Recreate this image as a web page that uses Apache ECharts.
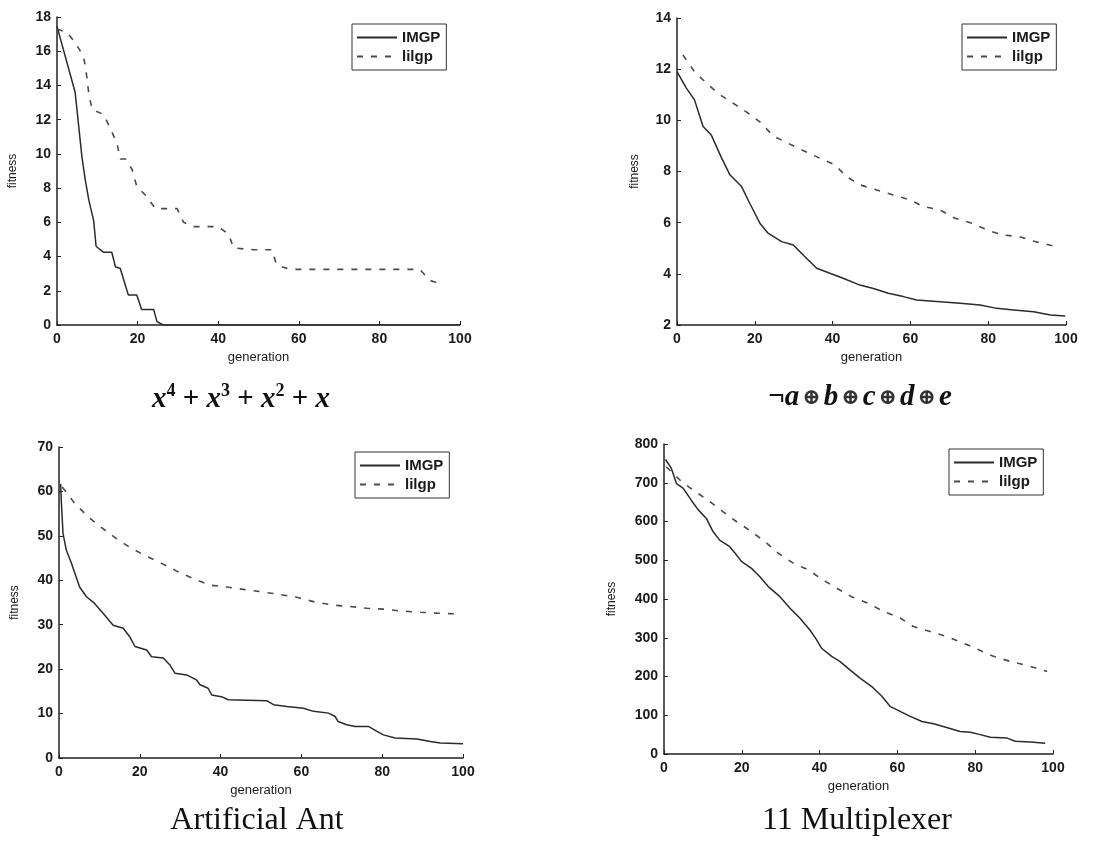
<!DOCTYPE html>
<html>
<head>
<meta charset="utf-8">
<script src="https://cdn.jsdelivr.net/npm/echarts@6/dist/echarts.min.js"></script>
<style>
  html, body { margin: 0; padding: 0; background: #fff; }
  #chart { width: 1103px; height: 848px; }
</style>
</head>
<body>
<div id="chart"></div>
<script>
// 四个子图的数据 (横轴: generation, 纵轴: fitness)
const legendNames = ['IMGP', 'lilgp']

// x^4 + x^3 + x^2 + x
const polyImgpGen = [0, 4.5, 6.2, 7, 7.9, 9.1, 9.7, 10.7, 11.6, 13.6, 14.5, 15.7, 17.7, 19.8, 21, 24, 24.8, 26.4, 40, 60, 80, 100]
const polyImgpFit = [17.45, 13.6, 9.8, 8.5, 7.3, 6.1, 4.6, 4.4, 4.25, 4.25, 3.4, 3.3, 1.75, 1.75, 0.9, 0.9, 0.2, 0, 0, 0, 0, 0]
const polyLilGen = [0, 2.5, 4.5, 6.6, 7.4, 7.9, 8.7, 11.6, 13.2, 14.9, 15.7, 17, 18.6, 19.8, 22.3, 24.4, 29.8, 31.4, 33.9, 40, 42.6, 43.8, 48.8, 53.3, 54.5, 57.9, 90, 92.6, 95.9]
const polyLilFit = [17.3, 17.1, 16.5, 15.7, 14.5, 13.5, 12.6, 12.3, 11.5, 10.6, 9.7, 9.7, 9.1, 8.1, 7.5, 6.8, 6.8, 6.0, 5.75, 5.75, 5.3, 4.5, 4.4, 4.4, 3.5, 3.25, 3.25, 2.6, 2.35]

// ¬a⊕b⊕c⊕d⊕e
const parityImgpGen = [0, 2.4, 4.5, 6.7, 8.8, 11.3, 13.6, 16.6, 18.7, 21.3, 23.4, 26.9, 29.9, 32.9, 35.9, 39.3, 42.7, 47, 50.5, 54.3, 58.2, 61.6, 67.6, 72.8, 77.9, 82.2, 86.5, 91.7, 96, 99.8]
const parityImgpFit = [11.9, 11.26, 10.8, 9.76, 9.43, 8.58, 7.87, 7.41, 6.76, 5.98, 5.59, 5.26, 5.13, 4.67, 4.22, 4.02, 3.83, 3.56, 3.43, 3.24, 3.11, 2.98, 2.91, 2.85, 2.78, 2.65, 2.59, 2.52, 2.39, 2.35]
const parityLilGen = [1.5, 4.5, 7.6, 11, 14.4, 18.3, 21.7, 24.7, 28.6, 32.4, 36.7, 40.6, 43.6, 47, 51.3, 55.6, 59.9, 63.3, 67.6, 71.5, 75.8, 79.7, 83.5, 87.8, 92.1, 96.8]
const parityLilFit = [12.56, 11.9, 11.45, 11.0, 10.67, 10.28, 9.89, 9.39, 9.1, 8.82, 8.52, 8.26, 7.8, 7.48, 7.28, 7.08, 6.89, 6.63, 6.5, 6.17, 5.98, 5.72, 5.52, 5.46, 5.26, 5.09]

// Artificial Ant
const antImgpGen = [0.4, 0.6, 1, 1.8, 3.1, 5.1, 6.8, 8.8, 10.9, 13.4, 15.9, 17.5, 18.8, 21.7, 22.9, 25.8, 27.4, 28.7, 31.6, 34, 34.9, 36.9, 37.8, 40.2, 41.9, 51.4, 53.1, 56.4, 60.5, 63, 66.7, 68.3, 69.1, 71.2, 73.3, 76.6, 78.7, 80.3, 83.2, 88.6, 91.9, 94.4, 100]
const antImgpFit = [61.7, 57.3, 50.5, 46.8, 43.8, 38.5, 36.3, 34.8, 32.6, 29.9, 29.2, 27.3, 25.1, 24.3, 22.8, 22.5, 21, 19.1, 18.7, 17.6, 16.5, 15.7, 14.2, 13.8, 13.1, 12.9, 12, 11.6, 11.2, 10.5, 10.1, 9.4, 8.2, 7.5, 7.1, 7.1, 6, 5.2, 4.5, 4.3, 3.7, 3.4, 3.2]
const antLilGen = [0.8, 3.9, 7.2, 10.9, 14.2, 17.9, 21.7, 25.4, 29.5, 33.2, 37.4, 41.5, 46, 50.2, 54.7, 58.8, 63, 67.9, 72, 76.2, 80.3, 84.5, 89.4, 93.6, 99.3]
const antLilFit = [61, 57.3, 54.3, 51.6, 49.4, 47.2, 45.4, 43.8, 41.9, 40.4, 38.9, 38.5, 37.9, 37.4, 36.8, 36.2, 35.2, 34.4, 34.1, 33.7, 33.5, 33.1, 32.8, 32.6, 32.4]

// 11 Multiplexer
const muxImgpGen = [0.4, 1.9, 3.2, 4.9, 7, 8.8, 10.9, 12.6, 14.3, 16.9, 18.6, 19.9, 22.5, 24.6, 26.8, 29.8, 32.4, 34.9, 37.5, 39.2, 40.5, 43.1, 45.2, 47.8, 50.4, 53.4, 56, 58.1, 60.7, 63.3, 66.3, 69.3, 73.1, 76.1, 78.7, 81.3, 83.9, 88.2, 90.3, 94.2, 98]
const muxImgpFit = [760, 737, 698, 686, 655, 630, 608, 574, 552, 535, 514, 497, 479, 458, 432, 406, 376, 351, 320, 295, 273, 252, 239, 217, 196, 174, 149, 123, 110, 97, 84, 78, 67, 58, 56, 50, 43, 41, 33, 31, 28]
const muxLilGen = [0.6, 4.5, 7.5, 11.3, 15.2, 18.6, 22.5, 26.4, 29.4, 33.3, 37.1, 40.9, 44.4, 48.2, 52.5, 56.4, 60.7, 64.1, 68.4, 72.7, 77, 80.9, 84.7, 89, 94.2, 98.5]
const muxLilFit = [741, 703, 681, 655, 625, 600, 574, 544, 518, 492, 475, 449, 428, 406, 389, 368, 351, 329, 316, 303, 286, 269, 252, 239, 226, 213]

// 纵轴刻度
const yTicks = [
  { min: 0, max: 18, interval: 2 },
  { min: 2, max: 14, interval: 2 },
  { min: 0, max: 70, interval: 10 },
  { min: 0, max: 800, interval: 100 },
]

const zip = (xs, ys) => xs.map((x, i) => [x, ys[i]])

// 每个子图的绘图区 (像素)
const panels = [
  { left: 57, top: 17, right: 460, bottom: 325, nameGap: 38, legend: [352, 24] },
  { left: 677, top: 18, right: 1066, bottom: 325, nameGap: 36, legend: [962, 24] },
  { left: 59, top: 447, right: 463, bottom: 758, nameGap: 38, legend: [355, 452] },
  { left: 664, top: 444, right: 1053, bottom: 754, nameGap: 46, legend: [949, 449] },
]

const seriesData = [
  [zip(polyImgpGen, polyImgpFit), zip(polyLilGen, polyLilFit)],
  [zip(parityImgpGen, parityImgpFit), zip(parityLilGen, parityLilFit)],
  [zip(antImgpGen, antImgpFit), zip(antLilGen, antLilFit)],
  [zip(muxImgpGen, muxImgpFit), zip(muxLilGen, muxLilFit)],
]

const axisFont = { fontFamily: 'Liberation Sans', fontWeight: 'bold', color: '#1a1a1a' }
const lineColors = ['#2b2b2b', '#4a4a4a']

const chartInstance = echarts.init(document.getElementById('chart'))

const grid = panels.map((p) => ({
  left: p.left,
  top: p.top,
  width: p.right - p.left,
  height: p.bottom - p.top,
  outerBoundsMode: 'none',
}))

const xAxis = panels.map((p, i) => ({
  type: 'value',
  gridIndex: i,
  min: 0,
  max: 100,
  interval: 20,
  name: 'generation',
  nameLocation: 'middle',
  nameGap: 26,
  nameTextStyle: { ...axisFont, fontSize: 13, fontWeight: 'normal' },
  axisLine: { lineStyle: { color: '#222', width: 1.5 } },
  axisTick: { inside: true, length: 4, lineStyle: { color: '#222' } },
  axisLabel: { ...axisFont, fontSize: 14, margin: 7 },
  splitLine: { show: false },
}))

const yAxis = panels.map((p, i) => ({
  type: 'value',
  gridIndex: i,
  min: yTicks[i].min,
  max: yTicks[i].max,
  interval: yTicks[i].interval,
  name: 'fitness',
  nameLocation: 'middle',
  nameGap: p.nameGap,
  nameTextStyle: { ...axisFont, fontSize: 12, fontWeight: 'normal' },
  axisLine: { show: true, lineStyle: { color: '#222', width: 1.5 } },
  axisTick: { inside: true, length: 4, lineStyle: { color: '#222' } },
  axisLabel: { ...axisFont, fontSize: 14, margin: 6 },
  splitLine: { show: false },
}))

const series = []
seriesData.forEach((pair, i) => {
  pair.forEach((data, k) => {
    series.push({
      name: legendNames[k] + '_' + i,
      type: 'line',
      xAxisIndex: i,
      yAxisIndex: i,
      data,
      symbol: 'none',
      smooth: false,
      lineStyle: {
        color: lineColors[k],
        width: k === 0 ? 1.5 : 1.6,
        type: k === 0 ? 'solid' : [6, 8],
      },
      itemStyle: { color: lineColors[k] },
    })
  })
})

// 图例: 只画线, 隐藏圆点
const legend = panels.map((p, i) => ({
  left: p.legend[0],
  top: p.legend[1],
  orient: 'vertical',
  data: legendNames.map((n) => n + '_' + i),
  formatter: (name) => name.split('_')[0],
  borderColor: '#333',
  borderWidth: 1,
  borderRadius: 0,
  padding: [6, 6, 6, 4],
  itemGap: 4,
  itemWidth: 40,
  itemHeight: 14,
  itemStyle: { opacity: 0 },
  textStyle: { ...axisFont, fontSize: 15 },
  selectedMode: false,
}))

// 子图下方的标题
const serif = 'Liberation Serif'
const title = [
  {
    text: '{i|x}{s|4}{n| + }{i|x}{s|3}{n| + }{i|x}{s|2}{n| + }{i|x}',
    left: 236,
    top: 377,
    textAlign: 'center',
    textStyle: {
      rich: {
        i: { fontFamily: serif, fontStyle: 'italic', fontSize: 29, color: '#111', lineHeight: 32, verticalAlign: 'bottom' },
        s: { fontFamily: serif, fontSize: 18, color: '#111', lineHeight: 32, verticalAlign: 'top' },
        n: { fontFamily: serif, fontSize: 29, color: '#111', lineHeight: 32, verticalAlign: 'bottom' },
      },
    },
  },
  {
    text: '{n|¬}{b|a}{o|⊕}{b|b}{o|⊕}{b|c}{o|⊕}{b|d}{o|⊕}{b|e}',
    left: 855,
    top: 377,
    textAlign: 'center',
    textStyle: {
      rich: {
        n: { fontFamily: serif, fontSize: 29, color: '#111', lineHeight: 32 },
        b: { fontFamily: serif, fontStyle: 'italic', fontWeight: 'bold', fontSize: 29, color: '#111', lineHeight: 32 },
        o: { fontFamily: 'DejaVu Serif', fontSize: 22, color: '#333', lineHeight: 32, padding: [0, 3] },
      },
    },
  },
  {
    text: 'Artificial Ant',
    left: 252,
    top: 800,
    textAlign: 'center',
    textStyle: { fontFamily: serif, fontSize: 32, fontWeight: 'normal', color: '#111' },
  },
  {
    text: '11 Multiplexer',
    left: 852,
    top: 800,
    textAlign: 'center',
    textStyle: { fontFamily: serif, fontSize: 32, fontWeight: 'normal', color: '#111' },
  },
]

chartInstance.setOption({
  animation: false,
  backgroundColor: '#fff',
  title,
  grid,
  xAxis,
  yAxis,
  legend,
  series,
})
</script>
</body>
</html>
